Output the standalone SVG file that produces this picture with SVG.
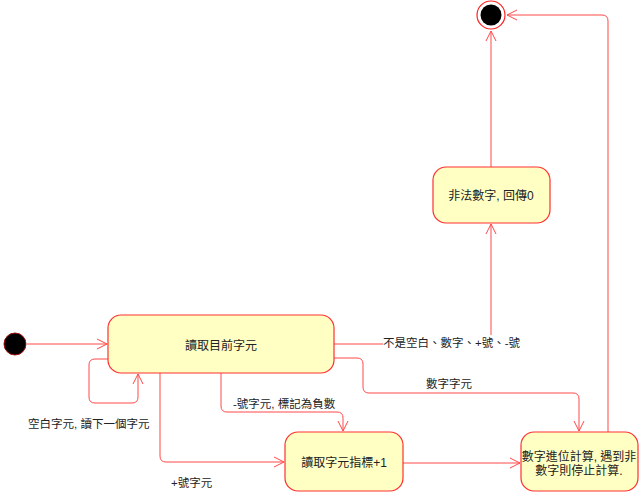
<svg xmlns="http://www.w3.org/2000/svg" width="639" height="492" viewBox="0 0 639 492">
<style>
.node{fill:#ffffc4;stroke:#ff3030;stroke-width:1.2}
.c{fill:none;stroke:#ff4848;stroke-width:1}
.t{font-family:"Liberation Sans","Noto Sans CJK TC",sans-serif;font-size:11.5px;fill:#222}
.nt{font-family:"Liberation Sans","Noto Sans CJK TC",sans-serif;font-size:12px;fill:#222;text-anchor:middle}
</style>
<defs>
<marker id="a" markerWidth="12" markerHeight="12" refX="11" refY="6" orient="auto" markerUnits="userSpaceOnUse">
<path d="M1,1 L11,6 L1,11" fill="none" stroke="#ff4848" stroke-width="1"/>
</marker>
</defs>
<rect width="639" height="492" fill="#fff"/>
<g id="connectors">
<path class="c" d="M27,344 L107,344" marker-end="url(#a)"/>
<path class="c" d="M108,359 L95,359 Q89,359 89,365 L89,397 Q89,403 95,403 L132,403 Q138,403 138,397 L138,374" marker-end="url(#a)"/>
<path class="c" d="M160,373 L160,456 Q160,462 166,462 L284,462" marker-end="url(#a)"/>
<path class="c" d="M221,373 L221,406 Q221,412 227,412 L337,412 Q343,412 343,418 L343,431" marker-end="url(#a)"/>
<path class="c" d="M334,358 L357,358 Q363,358 363,364 L363,387 Q363,393 369,393 L573,393 Q579,393 579,399 L579,431" marker-end="url(#a)"/>
<path class="c" d="M334,344 L383,344"/>
<path class="c" d="M491,335 L491,224" marker-end="url(#a)"/>
<path class="c" d="M491,167 L491,31" marker-end="url(#a)"/>
<path class="c" d="M403,463 L520,463" marker-end="url(#a)"/>
<path class="c" d="M608,432 L608,21 Q608,15 602,15 L507,15" marker-end="url(#a)"/>
<text class="t" x="383" y="347">不是空白、數字、+號、-號</text>
<text class="t" x="449" y="388" text-anchor="middle">數字字元</text>
<text class="t" x="233" y="408">-號字元, 標記為負數</text>
<text class="t" x="28" y="428">空白字元, 讀下一個字元</text>
<text class="t" x="171" y="487">+號字元</text>
</g>
<g id="initial">
<circle cx="15" cy="344" r="11" fill="#000" stroke="#a01010" stroke-width="1"/>
</g>
<g id="final">
<circle cx="491" cy="15" r="14" fill="#fff" stroke="#ff2020" stroke-width="1.2"/>
<circle cx="491" cy="15" r="10.5" fill="#000"/>
</g>
<g id="n1">
<rect class="node" x="108" y="315" width="226" height="58" rx="13"/>
<text class="nt" x="221" y="350">讀取目前字元</text>
</g>
<g id="n2">
<rect class="node" x="433" y="167" width="117" height="56" rx="13"/>
<text class="nt" x="491" y="200">非法數字, 回傳0</text>
</g>
<g id="n3">
<rect class="node" x="285" y="432" width="118" height="59" rx="13"/>
<text class="nt" x="344" y="467">讀取字元指標+1</text>
</g>
<g id="n4">
<rect class="node" x="521" y="432" width="117" height="59" rx="13"/>
<text class="nt" x="579" y="461">數字進位計算, 遇到非</text>
<text class="nt" x="579" y="475">數字則停止計算.</text>
</g>
</svg>
